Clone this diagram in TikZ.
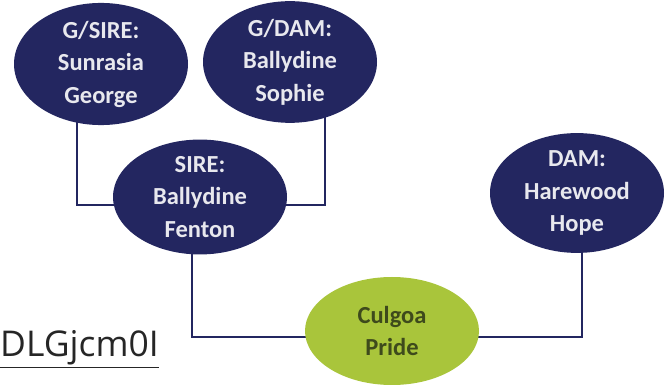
\documentclass[tikz,border=0pt]{standalone}
\usepackage{fontspec}
\setmainfont{Carlito}
\newfontfamily\urlfont{Open Sans}
\usetikzlibrary{shapes.geometric,backgrounds}
\definecolor{navy}{HTML}{232660}
\definecolor{lime}{HTML}{A9C53B}
\definecolor{olive}{HTML}{3E4A1C}
\definecolor{txtw}{HTML}{E8E8EE}
\tikzset{
  horse/.style={ellipse, fill=navy, inner sep=0pt, minimum width=174pt, minimum height=114pt,
    text=txtw, align=center, font=\bfseries\fontsize{24.5}{32.5}\selectfont},
  foal/.style={horse, fill=lime, text=olive},
  link/.style={draw=navy, line width=1.8pt}
}
\begin{document}
\begin{tikzpicture}[x=1pt,y=-1pt]
\useasboundingbox (0,0) rectangle (670,387);
\node[horse] (gsire) at (101,64) {G/SIRE:\\Sunrasia\\George};
\node[horse] (gdam) at (290,62) {G/DAM:\\Ballydine\\Sophie};
\node[horse] (sire) at (200,197) {SIRE:\\Ballydine\\Fenton};
\node[horse] (dam) at (577,193) {DAM:\\Harewood\\Hope};
\node[foal, minimum height=108pt] (foal) at (392,331) {Culgoa\\Pride};
\node[anchor=base west, inner sep=0pt, font=\urlfont\fontsize{35.5}{40}\selectfont, text=black!85] (url) at (0,357) {\underline{DLGjcm0I}};
\begin{scope}[on background layer]
\fill[white] (0,0) rectangle (670,387);
\draw[link] ([xshift=-24pt]gsire.center) |- ([yshift=-8pt]sire.center);
\draw[link] ([xshift=35pt]gdam.center) |- ([yshift=-8pt]sire.center);
\draw[link] ([xshift=-8pt]sire.center) |- ([yshift=-6pt]foal.center);
\draw[link] ([xshift=5pt]dam.center) |- ([yshift=-6pt]foal.center);
\end{scope}
\end{tikzpicture}
\end{document}
